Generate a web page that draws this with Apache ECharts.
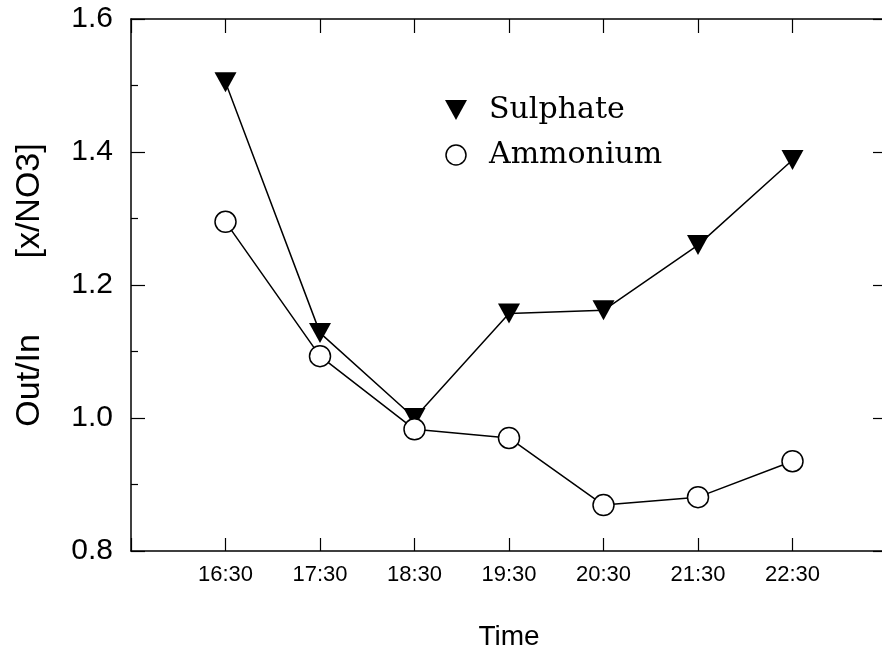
<!DOCTYPE html>
<html>
<head>
<meta charset="utf-8">
<script src="https://cdn.jsdelivr.net/npm/echarts@6/dist/echarts.min.js"></script>
<style>html,body{margin:0;padding:0;background:#fff;}#c{width:882px;height:658px;}</style>
</head>
<body>
<div id="c"></div>
<script>
var times = ['16:30', '17:30', '18:30', '19:30', '20:30', '21:30', '22:30'];
var sulphate = [1.505, 1.128, 1.00, 1.157, 1.162, 1.260, 1.388];
var ammonium = [1.295, 1.093, 0.983, 0.970, 0.869, 0.881, 0.935];
var yTicks = [0.8, 1.0, 1.2, 1.4, 1.6];

var chart = echarts.init(document.getElementById('c'));
var SANS = 'Liberation Sans';
var TRI = 'path://M0,0L22,0L11,20Z';
function pts(vals) { return vals.map(function (v, i) { return [i + 1, v]; }); }
function tick(len) { return { show: true, inside: false, length: -len, lineStyle: { color: '#000', width: 1.2 } }; }

chart.setOption({
  animation: false,
  backgroundColor: '#fff',
  grid: { left: 131, top: 19, width: 756, height: 532, outerBoundsMode: 'none', containLabel: false },
  legend: {
    orient: 'vertical', left: 440, top: 90, itemGap: 15,
    itemWidth: 22, itemHeight: 20,
    textStyle: { fontFamily: 'DejaVu Serif', fontSize: 30, color: '#000', lineHeight: 30, padding: [0, 0, 0, 17] },
    data: [
      { name: 'Sulphate', icon: TRI, itemStyle: { color: '#000', borderWidth: 0 } },
      { name: 'Ammonium', icon: 'circle', itemStyle: { color: '#fff', borderColor: '#000', borderWidth: 1.5 } }
    ]
  },
  xAxis: [{
    type: 'value', min: 0, max: 8, interval: 1, position: 'bottom',
    name: 'Time', nameLocation: 'middle', nameGap: 72,
    nameTextStyle: { fontFamily: SANS, fontSize: 28, color: '#000' },
    axisLine: { show: true, onZero: false, lineStyle: { color: '#000', width: 1.5 } },
    axisTick: tick(13),
    axisLabel: { margin: 13, fontFamily: SANS, fontSize: 22, color: '#000',
      formatter: function (v) { return times[v - 1] || ''; } },
    splitLine: { show: false }
  }, {
    type: 'value', min: 0, max: 8, interval: 1, position: 'top',
    axisLine: { show: true, onZero: false, lineStyle: { color: '#000', width: 1.5 } },
    axisTick: tick(14),
    axisLabel: { show: false }, splitLine: { show: false }
  }],
  yAxis: [{
    type: 'value', min: 0.8, max: 1.6, interval: 0.2, position: 'left',
    name: 'Out/In        [x/NO3]', nameLocation: 'middle', nameRotate: 90, nameGap: 84,
    nameTextStyle: { fontFamily: SANS, fontSize: 34, color: '#000' },
    axisLine: { show: true, onZero: false, lineStyle: { color: '#000', width: 1.5 } },
    axisTick: tick(14),
    minorTick: { show: true, splitNumber: 2, length: -7, lineStyle: { color: '#000', width: 1.2 } },
    axisLabel: { margin: 18, fontFamily: SANS, fontSize: 30, color: '#000',
      formatter: function (v) { return v.toFixed(1); } },
    splitLine: { show: false }
  }, {
    type: 'value', min: 0.8, max: 1.6, interval: 0.2, position: 'right',
    axisLine: { show: true, onZero: false, lineStyle: { color: '#000', width: 1.5 } },
    axisTick: tick(14),
    axisLabel: { show: false }, splitLine: { show: false }
  }],
  series: [{
    name: 'Sulphate', type: 'line', data: pts(sulphate),
    symbol: TRI, symbolSize: [22, 20], symbolKeepAspect: false,
    lineStyle: { color: '#000', width: 1.5 },
    itemStyle: { color: '#000', borderWidth: 0 }
  }, {
    name: 'Ammonium', type: 'line', data: pts(ammonium),
    symbol: 'circle', symbolSize: 21,
    lineStyle: { color: '#000', width: 1.5 },
    itemStyle: { color: '#fff', borderColor: '#000', borderWidth: 1.5 }
  }]
});
</script>
</body>
</html>
